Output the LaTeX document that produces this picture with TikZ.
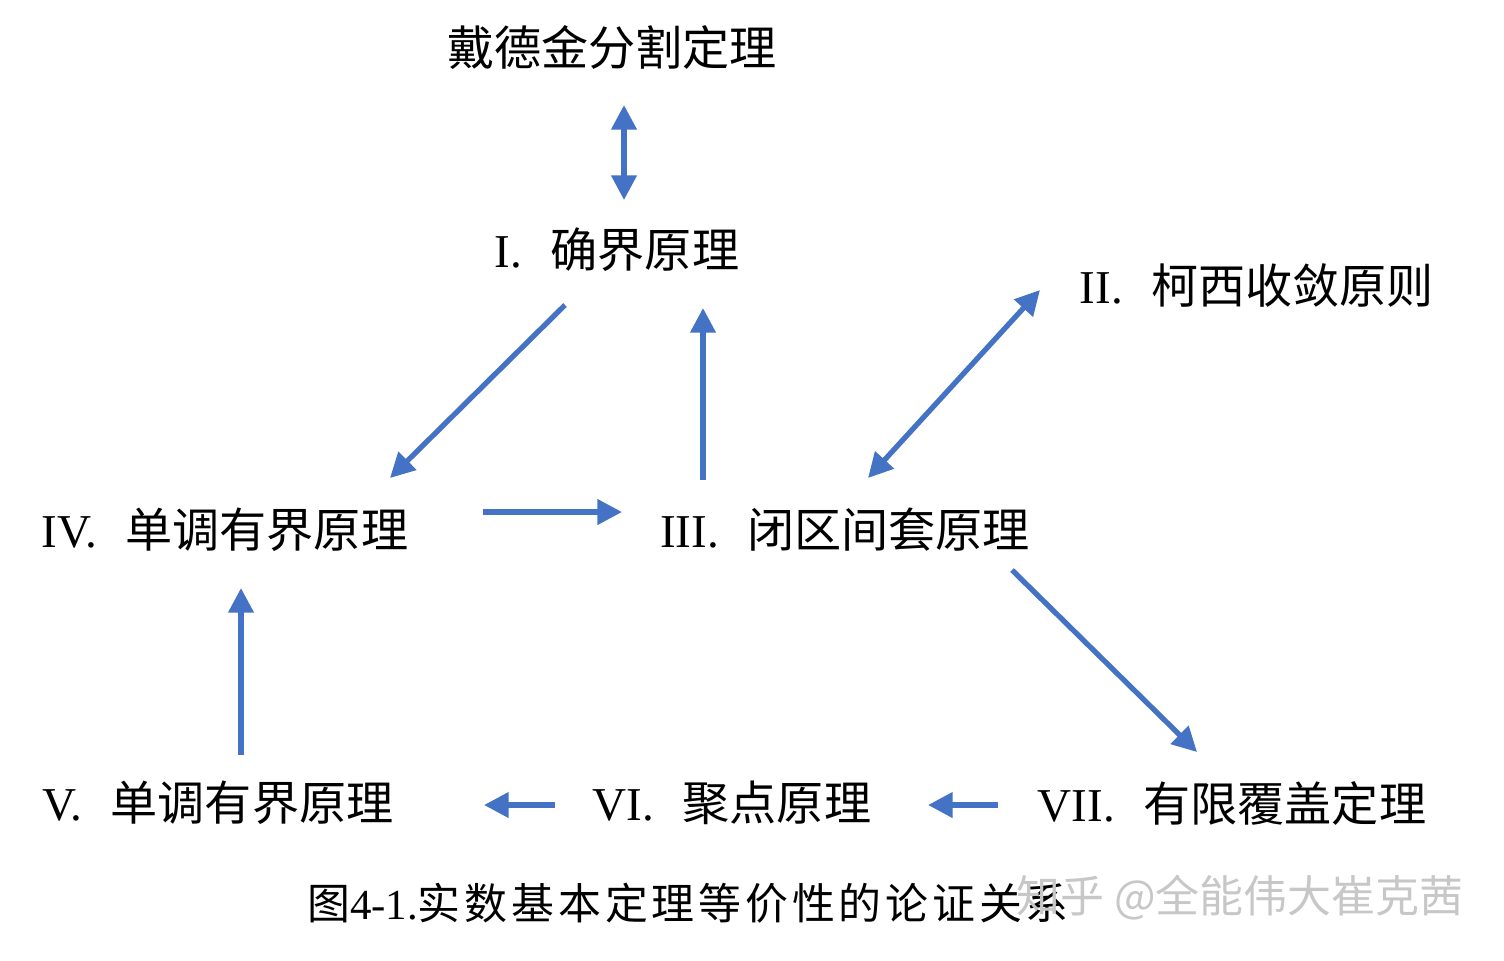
\documentclass[tikz,border=0pt]{standalone}
\usepackage{fontspec}
\setmainfont{Liberation Serif}
\newfontfamily\cjk{Noto Sans CJK SC}
\newfontfamily\cjkwide[LetterSpace=9]{Noto Sans CJK SC}
\usetikzlibrary{arrows.meta}
\newcommand{\zh}[1]{{\cjk #1}}
\definecolor{arrowblue}{HTML}{4472C4}
\tikzset{
  thm/.style={font=\fontsize{13.4}{16}\selectfont, inner sep=0pt},
  link/.style={draw=arrowblue, line width=1.5pt, -{Triangle[length=7pt,width=7pt]}},
  both/.style={link, {Triangle[length=7pt,width=7pt]}-{Triangle[length=7pt,width=7pt]}}
}

\begin{document}
\begin{tikzpicture}[x=0.01cm,y=-0.01cm]
  \useasboundingbox (0,0) rectangle (1504,960);
  % theorems
  \node[thm] (ded) at (612,48) {\zh{戴德金分割定理}};
  \node[thm] (sup) at (617,250) {I.\hspace{0.6em}\zh{确界原理}};
  \node[thm] (cau) at (1257,285) {II.\hspace{0.6em}\zh{柯西收敛原则}};
  \node[thm] (mon) at (225,530) {IV.\hspace{0.6em}\zh{单调有界原理}};
  \node[thm] (nest) at (845,530) {III.\hspace{0.6em}\zh{闭区间套原理}};
  \node[thm] (seq) at (218,803) {V.\hspace{0.6em}\zh{单调有界原理}};
  \node[thm] (acc) at (732,803) {VI.\hspace{0.6em}\zh{聚点原理}};
  \node[thm] (cov) at (1232,803) {VII.\hspace{0.6em}\zh{有限覆盖定理}};
  \node[font=\fontsize{12.2}{14}\selectfont] (cap) at (688,903) {{\cjkwide 图}4-1.{\cjkwide 实数基本定理等价性的论证关系}};
  \node[font=\fontsize{12.5}{14}\selectfont, text=black!22] (mark) at (1240,898) {\zh{知乎 @全能伟大崔克茜}};
  % arrow ends
  \coordinate (a1) at (624,105); \coordinate (a2) at (624,200);
  \coordinate (b1) at (565,305); \coordinate (b2) at (390,478);
  \coordinate (c1) at (703,480); \coordinate (c2) at (703,308);
  \coordinate (d1) at (1040,290); \coordinate (d2) at (868,478);
  \coordinate (e1) at (483,512); \coordinate (e2) at (622,512);
  \coordinate (f1) at (1012,570); \coordinate (f2) at (1197,752);
  \coordinate (g1) at (241,755); \coordinate (g2) at (241,588);
  \coordinate (h1) at (555,805); \coordinate (h2) at (484,805);
  \coordinate (k1) at (998,805); \coordinate (k2) at (928,805);
  % links
  \draw[both] (a1) -- (a2);
  \draw[link] (b1) -- (b2);
  \draw[link] (c1) -- (c2);
  \draw[both] (d1) -- (d2);
  \draw[link] (e1) -- (e2);
  \draw[link] (f1) -- (f2);
  \draw[link] (g1) -- (g2);
  \draw[link] (h1) -- (h2);
  \draw[link] (k1) -- (k2);
\end{tikzpicture}
\end{document}
